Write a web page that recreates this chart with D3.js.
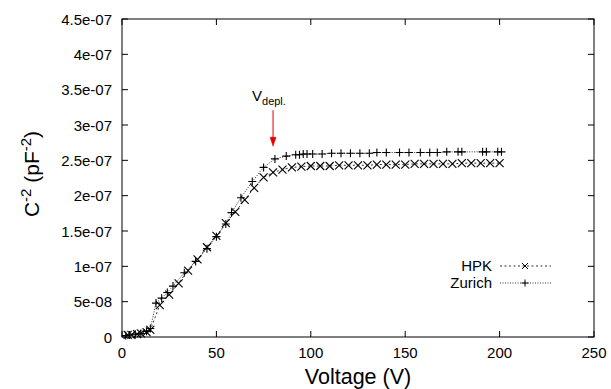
<!DOCTYPE html>
<html><head><meta charset="utf-8">
<script src="https://cdn.jsdelivr.net/npm/d3@7"></script>
<style>body{margin:0;background:#fff}svg{display:block}text{font-family:"Liberation Sans",Arial,sans-serif}</style>
</head><body><svg id="c" width="611" height="389"></svg>
<script>
const xTicks = [0, 50, 100, 150, 200, 250];
const yTicks = [0, 5e-8, 1e-7, 1.5e-7, 2e-7, 2.5e-7, 3e-7, 3.5e-7, 4e-7, 4.5e-7];
const yTickLabels = ["0","5e-08","1e-07","1.5e-07","2e-07","2.5e-07","3e-07","3.5e-07","4e-07","4.5e-07"];

const hpkV = [3,5,8,10,13,15,20,25,30,35,40,45,50,55,60,65,70,75,80,85,90,95,100,105,110,115,120,125,130,135,140,145,150,155,160,165,170,175,180,185,190,195,200];
const hpkC = [0.03,0.03,0.04,0.05,0.07,0.10,0.45,0.60,0.76,0.94,1.10,1.27,1.43,1.61,1.77,1.94,2.11,2.26,2.33,2.37,2.40,2.41,2.42,2.42,2.42,2.43,2.43,2.43,2.43,2.44,2.44,2.44,2.44,2.45,2.45,2.45,2.45,2.45,2.46,2.46,2.46,2.46,2.46].map(v => v * 1e-7);

const zurV = [2,4,7,10,13,15,18,21,24,27,33,39,45,50,55,58,63,69,75,81,87,92,94,96,98,101,106,111,116,121,126,131,135,140,147,152,158,163,167,172,178,180,191,193,199,201];
const zurC = [0.02,0.03,0.04,0.05,0.08,0.12,0.48,0.55,0.63,0.72,0.91,1.07,1.25,1.42,1.60,1.76,1.97,2.20,2.40,2.52,2.56,2.58,2.58,2.59,2.59,2.59,2.59,2.60,2.60,2.60,2.60,2.60,2.61,2.61,2.61,2.61,2.61,2.61,2.61,2.62,2.62,2.62,2.62,2.62,2.62,2.62].map(v => v * 1e-7);

const arrowV = 80, arrowTop = 3.21e-7, arrowBot = 2.70e-7;

const svg = d3.select("#c");
const L = 122, R = 594, T = 19, B = 337;
const x = d3.scaleLinear().domain([0, 250]).range([L, R]);
const y = d3.scaleLinear().domain([0, 4.5e-7]).range([B, T]);

svg.append("rect").attr("x", L).attr("y", T).attr("width", R - L).attr("height", B - T)
  .attr("fill", "none").attr("stroke", "#000").attr("stroke-width", 1);

const tl = 6;
const g = svg.append("g").attr("stroke", "#000").attr("stroke-width", 1);
xTicks.forEach(t => {
  g.append("line").attr("x1", x(t)).attr("x2", x(t)).attr("y1", B).attr("y2", B - tl);
  g.append("line").attr("x1", x(t)).attr("x2", x(t)).attr("y1", T).attr("y2", T + tl);
});
yTicks.forEach(t => {
  g.append("line").attr("x1", L).attr("x2", L + tl).attr("y1", y(t)).attr("y2", y(t));
  g.append("line").attr("x1", R).attr("x2", R - tl).attr("y1", y(t)).attr("y2", y(t));
});

svg.append("g").selectAll("text").data(xTicks).join("text")
  .attr("x", d => x(d)).attr("y", 358).attr("text-anchor", "middle")
  .attr("font-size", 15).text(d => d);
svg.append("g").selectAll("text").data(yTicks).join("text")
  .attr("x", 112).attr("y", d => y(d) + 5.5).attr("text-anchor", "end")
  .attr("font-size", 15).text((d, i) => yTickLabels[i]);

svg.append("text").attr("x", 358).attr("y", 384).attr("text-anchor", "middle")
  .attr("font-size", 21.5).text("Voltage (V)");
const yt = svg.append("text").attr("transform", "translate(39,174) rotate(-90)")
  .attr("text-anchor", "middle").attr("font-size", 21);
yt.append("tspan").text("C");
yt.append("tspan").attr("dy", -8).attr("font-size", 15).text("-2");
yt.append("tspan").attr("dy", 8).text(" (pF");
yt.append("tspan").attr("dy", -8).attr("font-size", 15).text("-2");
yt.append("tspan").attr("dy", 8).text(")");

const line = d3.line().x(d => x(d[0])).y(d => y(d[1]));
const hpk = hpkV.map((v, i) => [v, hpkC[i]]);
const zur = zurV.map((v, i) => [v, zurC[i]]);

svg.append("path").datum(hpk).attr("d", line).attr("fill", "none")
  .attr("stroke", "#333").attr("stroke-width", 1).attr("stroke-dasharray", "2,2.5");
svg.append("path").datum(zur).attr("d", line).attr("fill", "none")
  .attr("stroke", "#333").attr("stroke-width", 1).attr("stroke-dasharray", "1,1.5");

const ms = 4;
function cross(sel, px, py) {
  sel.append("path").attr("d", `M${px-ms},${py-ms}L${px+ms},${py+ms}M${px-ms},${py+ms}L${px+ms},${py-ms}`);
}
function plus(sel, px, py) {
  sel.append("path").attr("d", `M${px-ms},${py}L${px+ms},${py}M${px},${py-ms}L${px},${py+ms}`);
}
const mg = svg.append("g").attr("stroke", "#000").attr("stroke-width", 1.1).attr("fill", "none");
hpk.forEach(d => cross(mg, x(d[0]), y(d[1])));
zur.forEach(d => plus(mg, x(d[0]), y(d[1])));

// legend
svg.append("text").attr("x", 492).attr("y", 271).attr("text-anchor", "end").attr("font-size", 15).text("HPK");
svg.append("text").attr("x", 492).attr("y", 288).attr("text-anchor", "end").attr("font-size", 15).text("Zurich");
svg.append("line").attr("x1", 500).attr("x2", 551).attr("y1", 266).attr("y2", 266)
  .attr("stroke", "#333").attr("stroke-dasharray", "2,2.5");
svg.append("line").attr("x1", 500).attr("x2", 551).attr("y1", 283).attr("y2", 283)
  .attr("stroke", "#333").attr("stroke-dasharray", "1,1.5");
const lg = svg.append("g").attr("stroke", "#000").attr("stroke-width", 1).attr("fill", "none");
{ const s = 3; lg.append("path").attr("d", `M${525-s},${266-s}L${525+s},${266+s}M${525-s},${266+s}L${525+s},${266-s}`); }
{ const s = 3.5; lg.append("path").attr("d", `M${525-s},283L${525+s},283M525,${283-s}L525,${283+s}`); }

// arrow
const ax = x(arrowV);
svg.append("line").attr("x1", ax).attr("x2", ax).attr("y1", y(arrowTop)).attr("y2", y(arrowBot) - 4)
  .attr("stroke", "#e00000").attr("stroke-width", 1);
svg.append("path").attr("d", `M${ax-3},${y(arrowBot)-9}L${ax},${y(arrowBot)}L${ax+3},${y(arrowBot)-9}Z`)
  .attr("fill", "#e00000").attr("stroke", "#e00000").attr("stroke-width", 0.5);
const vl = svg.append("text").attr("x", 252).attr("y", 101).attr("font-size", 15);
vl.append("tspan").text("V");
vl.append("tspan").attr("dy", 4).attr("font-size", 11).text("depl.");
</script></body></html>
